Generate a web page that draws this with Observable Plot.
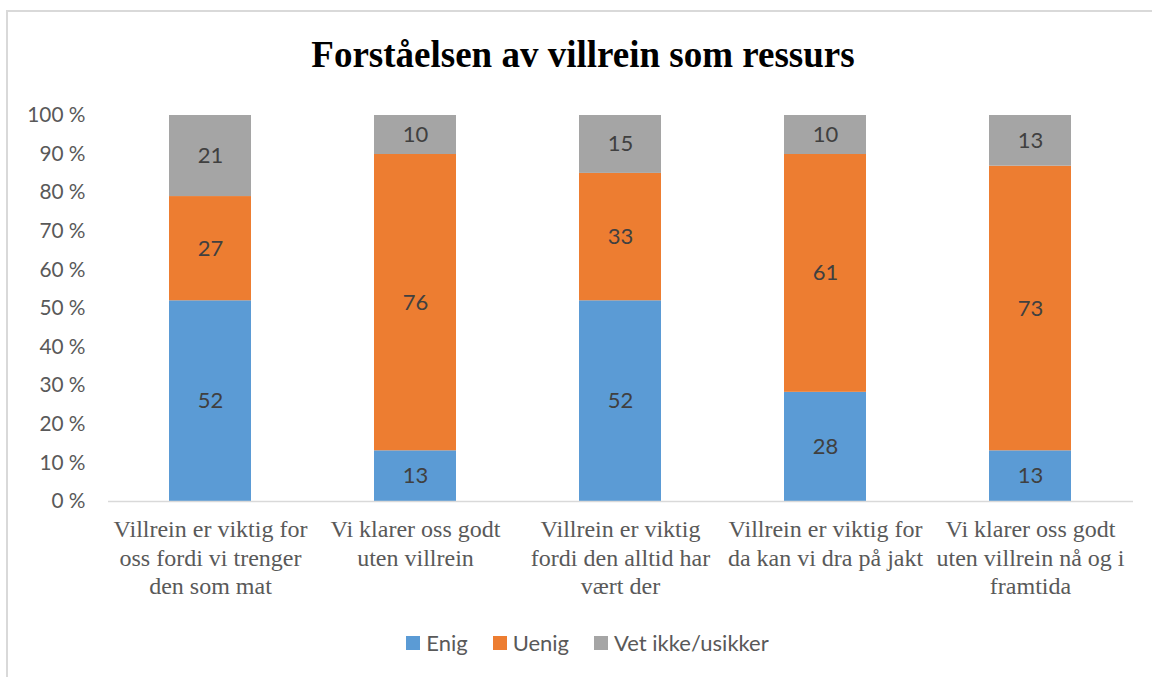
<!DOCTYPE html>
<html>
<head>
<meta charset="utf-8">
<script src="https://cdn.jsdelivr.net/npm/d3@7"></script>
<script src="https://cdn.jsdelivr.net/npm/@observablehq/plot@0.6"></script>
<style>
  html, body { margin: 0; padding: 0; width: 1152px; height: 677px; overflow: hidden; background: #fff; }
  #frame { position: absolute; left: 6px; top: 10px; width: 1200px; height: 720px; border: 2px solid #d9d9d9; box-sizing: border-box; }
  #title { position: absolute; left: 0; top: 33px; width: 1166px; text-align: center; font-family: "Liberation Serif", serif; font-weight: bold; font-size: 37px; line-height: 44px; color: #000; }
  #chart { position: absolute; left: 0; top: 90px; }
  #legend { position: absolute; left: 0; top: 629px; width: 1175px; display: flex; justify-content: center; gap: 25px; font-family: Lato, "Open Sans", sans-serif; font-size: 22px; line-height: 28px; color: #595959; }
  #legend .item { display: flex; align-items: center; }
  #legend .sw { display: inline-block; width: 14px; height: 14px; margin-right: 6px; }
</style>
</head>
<body>
<div id="frame"></div>
<div id="title">Forståelsen av villrein som ressurs</div>
<div id="chart"></div>
<div id="legend"></div>
<script>
const categories = [
  "Villrein er viktig for\noss fordi vi trenger\nden som mat",
  "Vi klarer oss godt\nuten villrein",
  "Villrein er viktig\nfordi den alltid har\nvært der",
  "Villrein er viktig for\nda kan vi dra på jakt",
  "Vi klarer oss godt\nuten villrein nå og i\nframtida"
];
const series = ["Enig", "Uenig", "Vet ikke/usikker"];
const enig = [52, 13, 52, 28, 13];
const uenig = [27, 76, 33, 61, 73];
const vetIkke = [21, 10, 15, 10, 13];
const colors = ["#5B9BD5", "#ED7D31", "#A5A5A5"];
const yTicks = [0, 0.1, 0.2, 0.3, 0.4, 0.5, 0.6, 0.7, 0.8, 0.9, 1];

const values = [enig, uenig, vetIkke];
const data = [];
categories.forEach((c, i) => {
  series.forEach((s, j) => data.push({category: c, series: s, value: values[j][i]}));
});

const stackOpts = {x: "category", y: "value", z: "series", offset: "normalize"};

const plot = Plot.plot({
  width: 1152,
  height: 520,
  marginTop: 25,
  marginBottom: 109,
  marginLeft: 108,
  marginRight: 19,
  style: {background: "transparent", overflow: "visible"},
  x: {domain: categories, paddingInner: 0.6, paddingOuter: 0.3, label: null},
  y: {domain: [0, 1], label: null},
  color: {domain: series, range: colors},
  marks: [
    Plot.barY(data, Plot.stackY({...stackOpts, fill: "series"})),
    Plot.text(data, Plot.stackY({...stackOpts, text: d => String(d.value), fill: "#404040", fontSize: 22, fontFamily: "Lato, 'Open Sans', sans-serif"})),
    Plot.ruleY([0], {stroke: "#d9d9d9", strokeWidth: 1.5}),
    Plot.axisY({ticks: yTicks, tickFormat: d => Math.round(d * 100) + " %", tickSize: 0, tickPadding: 23, fontSize: 20.8, fill: "#595959", fontFamily: "Lato, 'Open Sans', sans-serif"}),
    Plot.axisX({tickSize: 0, tickPadding: 16, fontSize: 24, lineHeight: 1.17, fill: "#595959", fontFamily: "'Liberation Serif', serif", textAnchor: "middle"})
  ]
});
document.getElementById("chart").appendChild(plot);

const legend = document.getElementById("legend");
series.forEach((s, i) => {
  const item = document.createElement("span");
  item.className = "item";
  item.innerHTML = `<span class="sw" style="background:${colors[i]}"></span>${s}`;
  legend.appendChild(item);
});
</script>
</body>
</html>
